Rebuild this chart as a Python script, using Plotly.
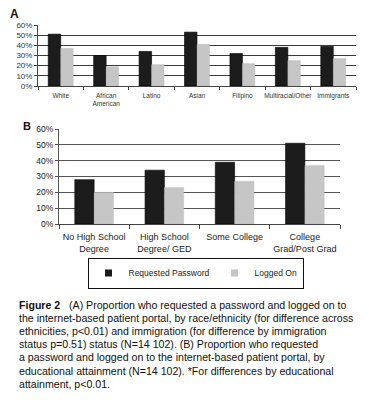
import plotly.graph_objects as go

cats_a = ["White", "African<br>American", "Latino", "Asian", "Filipino", "Multiracial/Other", "Immigrants"]
req_a = [51, 30, 34, 53, 32, 38, 39]
log_a = [37, 19, 21, 41, 22, 25, 27]

cats_b = ["No High School<br>Degree", "High School<br>Degree/ GED", "Some College", "College<br>Grad/Post Grad"]
req_b = [28, 34, 39, 51]
log_b = [20, 23, 27, 37]

series_names = ["Requested Password", "Logged On"]

y_ticks = [0, 10, 20, 30, 40, 50, 60]
y_tick_text = [f"{v}%" for v in y_ticks]

caption_lines = [
    "<b>Figure 2</b>   (A) Proportion who requested a password and logged on to",
    "the internet-based patient portal, by race/ethnicity (for difference across",
    "ethnicities, p&lt;0.01) and immigration (for difference by immigration",
    "status p=0.51) status (N=14 102). (B) Proportion who requested",
    "a password and logged on to the internet-based patient portal, by",
    "educational attainment (N=14 102). *For differences by educational",
    "attainment, p&lt;0.01.",
]

BLACK = "#1c1c1c"
GRAY = "#c6c6c6"
FONT = "Liberation Sans, Arial, sans-serif"

# page has an 8px body margin: figure is placed at (8, 8) in the window
OFF = 8
W = 369.0 - OFF
H = 400.0 - OFF


def px(p):
    return (p - OFF) / W


def py(p):
    return 1 - (p - OFF) / H


fig = go.Figure()
fig.add_trace(go.Bar(x=cats_a, y=req_a, marker=dict(color=BLACK, line=dict(color="#000", width=0.6)),
                     xaxis="x", yaxis="y", showlegend=False, name=series_names[0]))
fig.add_trace(go.Bar(x=cats_a, y=log_a, marker=dict(color=GRAY, line=dict(color="#b8b8b8", width=0.4)),
                     xaxis="x", yaxis="y", showlegend=False, name=series_names[1]))
fig.add_trace(go.Bar(x=cats_b, y=req_b, marker=dict(color=BLACK, line=dict(color="#000", width=0.6)),
                     xaxis="x2", yaxis="y2", showlegend=False, name=series_names[0]))
fig.add_trace(go.Bar(x=cats_b, y=log_b, marker=dict(color=GRAY, line=dict(color="#b8b8b8", width=0.4)),
                     xaxis="x2", yaxis="y2", showlegend=False, name=series_names[1]))
# legend entries (small square swatches)
for nm, col in zip(series_names, [BLACK, GRAY]):
    fig.add_trace(go.Scatter(x=[None], y=[None], mode="markers", name=nm,
                             marker=dict(symbol="square", size=7, color=col),
                             xaxis="x2", yaxis="y2", showlegend=True))

fig.update_layout(
    width=int(W), height=int(H),
    margin=dict(l=0, r=0, t=0, b=0, autoexpand=False),
    paper_bgcolor="white", plot_bgcolor="white",
    barmode="group", bargap=0.45, bargroupgap=0,
    font=dict(family=FONT, color="#222"),
    xaxis=dict(domain=[px(38), px(356)], anchor="y", type="category", tickangle=0, automargin=False,
               tickfont=dict(size=6.5, color="#333"), showline=True, linecolor="#444", linewidth=1,
               ticks="outside", tickson="boundaries", ticklen=3, tickcolor="#444", showgrid=False,
               ticklabelstandoff=3),
    yaxis=dict(domain=[py(86), py(25)], anchor="x", range=[0, 60], tickvals=y_ticks, ticktext=y_tick_text,
               automargin=False,
               tickfont=dict(size=8, color="#333"), showline=True, linecolor="#444", linewidth=1,
               ticks="outside", ticklen=3, tickcolor="#444",
               showgrid=True, gridcolor="#3a3a3a", gridwidth=1.2, zeroline=False),
    xaxis2=dict(domain=[px(59), px(340)], anchor="y2", type="category", tickangle=0, automargin=False,
                tickfont=dict(size=9, color="#222"), showline=True, linecolor="#444", linewidth=1,
                ticks="outside", tickson="boundaries", ticklen=4, tickcolor="#444", showgrid=False,
                ticklabelstandoff=4),
    yaxis2=dict(domain=[py(224), py(129)], anchor="x2", range=[0, 60], tickvals=y_ticks, ticktext=y_tick_text,
                automargin=False,
                tickfont=dict(size=8.5, color="#222"), showline=True, linecolor="#555", linewidth=1,
                ticks="outside", ticklen=3, tickcolor="#555",
                showgrid=True, gridcolor="#555", gridwidth=1, zeroline=False),
    legend=dict(orientation="h", x=px(195.5), xanchor="center", y=py(273), yanchor="middle",
                bordercolor="#111", borderwidth=1, bgcolor="white",
                font=dict(size=8.5, color="#222"), itemwidth=30, tracegroupgap=0),
)

fig.add_annotation(text="<b>A</b>", x=px(8), y=py(14), xref="paper", yref="paper",
                   xanchor="left", yanchor="middle", showarrow=False, font=dict(size=12, color="#111"))
fig.add_annotation(text="<b>B</b>", x=px(21), y=py(126), xref="paper", yref="paper",
                   xanchor="left", yanchor="middle", showarrow=False, font=dict(size=11, color="#111"))

line_y0 = 304.5
line_h = 13.2
for i, ln in enumerate(caption_lines):
    fig.add_annotation(text=ln, x=px(17), y=py(line_y0 + i * line_h), xref="paper", yref="paper",
                       xanchor="left", yanchor="middle", align="left", showarrow=False,
                       font=dict(size=10.6, color="#111"))

fig.write_html("out.html")
